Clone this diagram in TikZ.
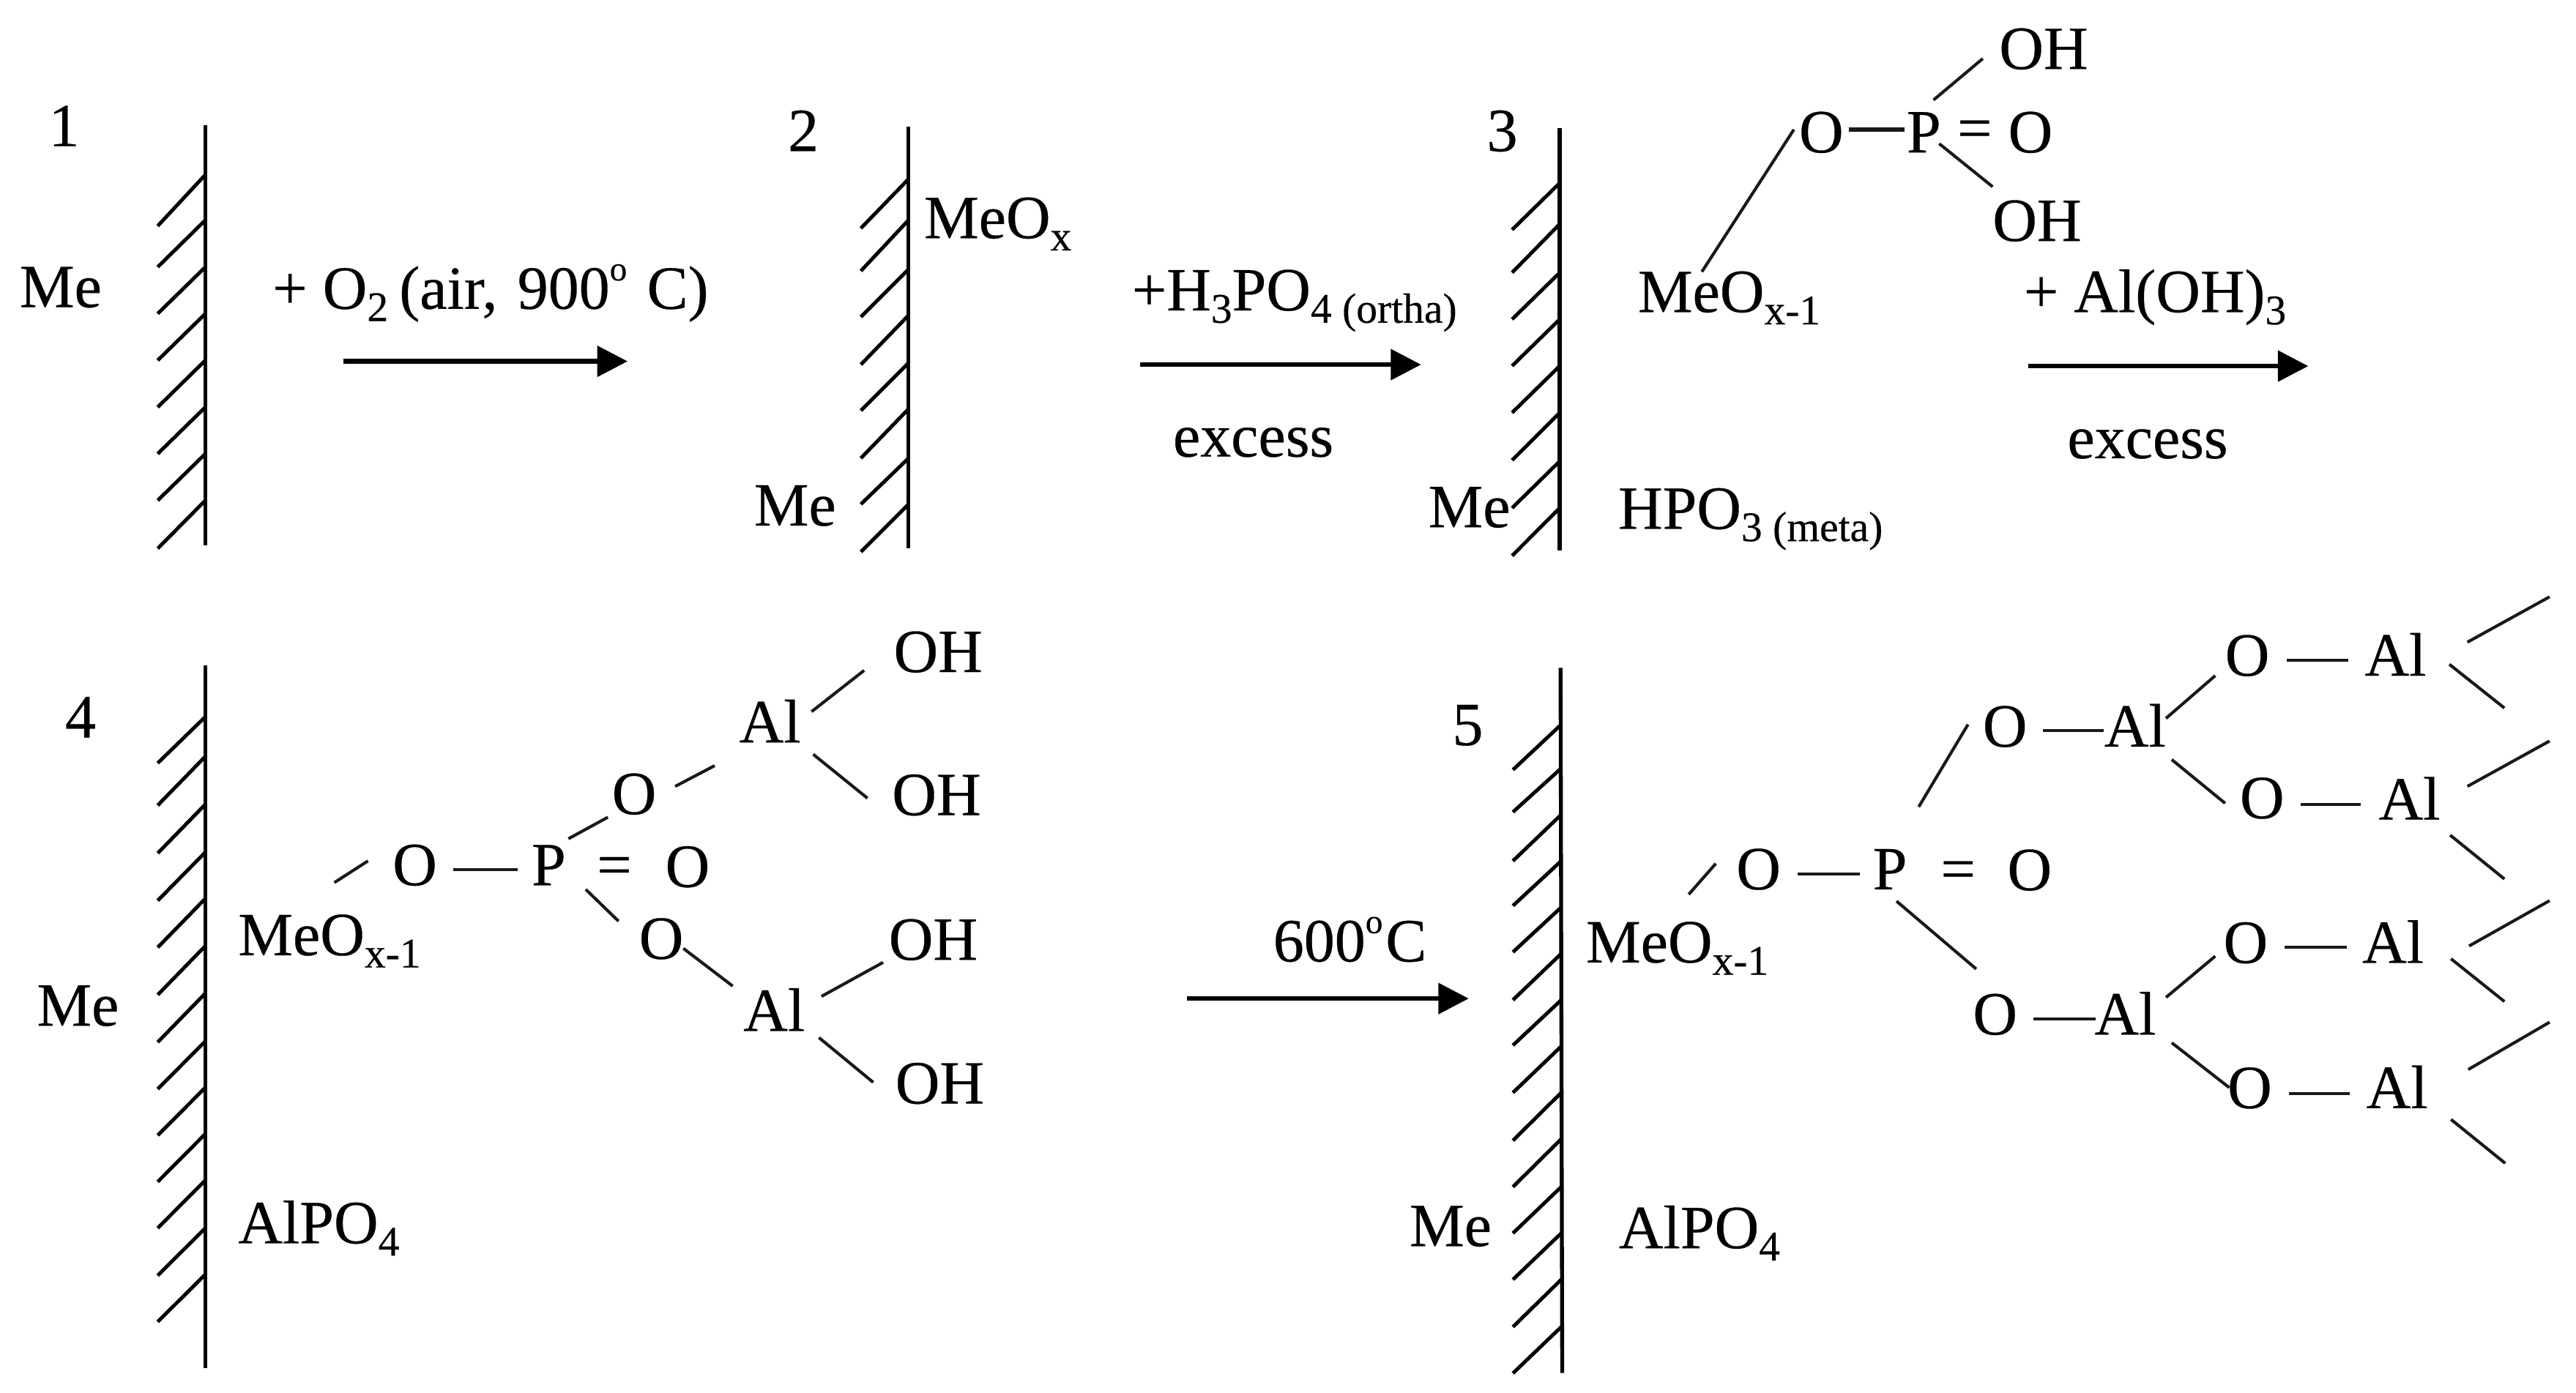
\documentclass[tikz,border=0pt]{standalone}
\usepackage{fontspec}
\setmainfont[RawFeature={embolden=0.35}]{Liberation Serif}
\usetikzlibrary{calc,arrows.meta}
\newcommand\sbs[1]{\raisebox{-0.2em}{\fontsize{14.6}{14.6}\selectfont #1}}
\newcommand\degmark{\raisebox{0.46em}{\fontsize{12}{12}\selectfont o}}
\newcommand\bond[4]{\draw[bondline] ($(#1)+(#2)$) -- ($(#3)+(#4)$);}
\tikzset{
  txt/.style={inner sep=0pt,outer sep=0pt,font=\fontsize{21.3}{24}\selectfont,text=black},
  atom/.style={txt,anchor=base},
  lbl/.style={txt,anchor=base west},
  bondline/.style={line width=1.05pt,black!90},
  thick bond/.style={line width=1.5pt},
  wallline/.style={line width=1.35pt,black},
  hatchline/.style={line width=1.25pt,black},
  rxn/.style={line width=1.6pt,black,-{Triangle[length=10.5pt,width=10.5pt]}}
}
\begin{document}
\begin{tikzpicture}[x=0.02cm,y=-0.02cm]
\useasboundingbox (0,0) rectangle (1568,848);
% ---- walls
\draw[wallline] (125,76) -- (125,332);
\foreach \a/\b in {106.4/137.6,134/162.6,162.6/191,191/219.4,219.4/247.9,247.9/276.3,276.3/304.7,304.7/334}
  \draw[hatchline] (125,\a) -- (96,\b);
\draw[wallline] (553,77) -- (553,334);
\foreach \a/\b in {109/139,134/165,164/193,192/222,221/250,249/279,279/307,307/336}
  \draw[hatchline] (553,\a) -- (524,\b);
\draw[wallline] (949.4,78) -- (949.4,335);
\foreach \a/\b in {111.4/139.9,136.4/166,166/194.4,194.4/222.8,222.8/251.3,251.3/280.2,280.8/309.3,309.3/338.4}
  \draw[hatchline] (949.4,\a) -- (920.4,\b);
\draw[wallline] (125,405) -- (125,833);
\foreach \a/\b in {255/345,332/427,425/520,518/612,608/703,700/795,792/887,885/978,975/1068,1065/1158,1155/1248,1248/1340,1338/1430}
  \draw[hatchline] (125,{356.5+.3135*\a}) -- (96,{356.5+.3135*\b});
\draw[wallline] (949.9,406.7) -- (950.9,836);
\foreach \a/\b in {270/358,355/440,445/535,535/622,625/712,715/805,805/893,895/985,985/1078,1075/1168,1168/1258,1258/1348,1348/1440,1440/1530}
  \draw[hatchline] (950.3,{356.5+.3135*\a}) -- (920.9,{356.5+.3135*\b});
% ---- reaction arrows
\coordinate (a1s) at (209,220); \coordinate (a1e) at (382,220);
\coordinate (a2s) at (694,222); \coordinate (a2e) at (865,222);
\coordinate (a3s) at (1234.4,222.9); \coordinate (a3e) at (1405,222.9);
\coordinate (a4s) at (722.5,608); \coordinate (a4e) at (894,608);
\draw[rxn] (a1s) -- (a1e);
\draw[rxn] (a2s) -- (a2e);
\draw[rxn] (a3s) -- (a3e);
\draw[rxn] (a4s) -- (a4e);
% ---- top row labels
\node[atom] (n1) at (39,89) {1};
\node[lbl] (me1) at (12,187) {Me};
\node[lbl] (r1) at (166,188) {+ O\sbs{2}\kern-1.5pt{} (air,\kern1.6pt{} 900\degmark{}\kern1.6pt{} C)};
\node[atom] (n2) at (489,92) {2};
\node[lbl] (meox) at (562.5,145) {MeO\sbs{x}};
\node[lbl] (me2) at (459,320) {Me};
\node[lbl] (r2) at (689,189) {+H\sbs{3}PO\sbs{4 (ortha)}};
\node[lbl] (ex1) at (714,278) {excess};
\node[atom] (n3) at (914.4,92) {3};
\node[lbl] (me3) at (869.4,321) {Me};
\node[lbl] (hpo) at (985,322) {HPO\sbs{3 (meta)}};
\node[lbl] (c3Me) at (997,190) {MeO\sbs{x-1}};
\node[atom] (c3O) at (1108.6,92.8) {O};
\node[atom] (c3P) at (1171,92.8) {P};
\node[atom] (c3E) at (1202,90.5) {=};
\node[atom] (c3Or) at (1235.9,92.8) {O};
\node[lbl] (c3OHt) at (1216.9,42) {OH};
\node[lbl] (c3OHb) at (1212.9,146.7) {OH};
\node[lbl] (r3) at (1231.9,190) {+ Al(OH)\sbs{3}};
\node[lbl] (ex2) at (1258.4,279) {excess};
\draw[bondline,thick bond] ($(c3O.base)+(16.8,-13.8)$) -- ($(c3P.base)+(-11.6,-13.8)$);
\bond{c3P.base}{5.9,-31.9}{c3OHt.base west}{-10,-6.3}
\bond{c3P.base}{9.4,-5.3}{c3OHb.base west}{0,-33}
\bond{c3Me.base west}{38.9,-24.5}{c3O.base}{-16.7,-13.9}
% ---- structure 4
\node[atom] (n4) at (49,449) {4};
\node[lbl] (me4) at (22.5,624.5) {Me};
\node[lbl] (d4Me) at (145,581.6) {MeO\sbs{x-1}};
\node[lbl] (alp4) at (145,757) {AlPO\sbs{4}};
\node[atom] (d4O) at (252.5,539) {O};
\node[atom] (d4P) at (334,539) {P};
\node[atom] (d4E) at (374,539) {=};
\node[atom] (d4Or) at (418.5,540) {O};
\node[atom] (d4Ou) at (386,495.7) {O};
\node[atom] (d4Od) at (402.5,583.8) {O};
\node[lbl] (d4Alu) at (450,452) {Al};
\node[lbl] (d4All) at (452.5,627.7) {Al};
\node[lbl] (OHa) at (544,409.2) {OH};
\node[lbl] (OHb) at (543,496.3) {OH};
\node[lbl] (OHc) at (541,584.4) {OH};
\node[lbl] (OHd) at (545,671.9) {OH};
\bond{d4Me.base west}{58.5,-44.2}{d4O.base}{-28.5,-14.8}
\bond{d4O.base}{23.5,-9.4}{d4P.base}{-19,-9.4}
\bond{d4P.base}{12,-28.3}{d4Ou.base}{-16,1.9}
\bond{d4P.base}{22.5,2.5}{d4Od.base}{-26,-22.9}
\bond{d4Ou.base}{25,-16.9}{d4Alu.base west}{-15,14.2}
\bond{d4Od.base}{13.5,-6.3}{d4All.base west}{-6.5,-27.3}
\bond{d4Alu.base west}{44,-18.7}{OHa.base west}{-18,-1}
\bond{d4Alu.base west}{45,7.3}{OHb.base west}{-15,-10.3}
\bond{d4All.base west}{47.5,-21}{OHc.base west}{-3.5,1.6}
\bond{d4All.base west}{46,4.1}{OHd.base west}{-13.5,-12.9}
% ---- 600 C
\node[lbl] (r4) at (775,585.4) {600\degmark{}\kern1pt{}C};
% ---- structure 5
\node[atom] (n5) at (893.4,453.7) {5};
\node[lbl] (me5) at (858,758.7) {Me};
\node[lbl] (e5Me) at (965.4,586) {MeO\sbs{x-1}};
\node[lbl] (alp5) at (985.4,760) {AlPO\sbs{4}};
\node[atom] (e5O) at (1070.4,541.5) {O};
\node[atom] (e5P) at (1150.4,541.5) {P};
\node[atom] (e5E) at (1191.9,541.5) {=};
\node[atom] (e5Or) at (1235.4,542) {O};
\node[atom] (e5Ou) at (1220.4,454.6) {O};
\node[lbl] (e5Alu) at (1280.9,454.6) {Al};
\node[atom] (e5Od) at (1214.4,629.9) {O};
\node[lbl] (e5All) at (1274.9,629.9) {Al};
\node[atom] (eO1) at (1367.9,411.4) {O};
\node[lbl] (eAl1) at (1439.4,411.4) {Al};
\node[atom] (eO2) at (1376.9,498.2) {O};
\node[lbl] (eAl2) at (1447.9,499) {Al};
\node[atom] (eO3) at (1366.9,586.3) {O};
\node[lbl] (eAl3) at (1437.9,586.3) {Al};
\node[atom] (eO4) at (1369.4,674.7) {O};
\node[lbl] (eAl4) at (1440.4,674.7) {Al};
\bond{e5Me.base west}{62.5,-41.4}{e5O.base}{-26,-15.7}
\bond{e5O.base}{24,-9.5}{e5P.base}{-18.5,-9.5}
\bond{e5P.base}{17.5,-50.2}{e5Ou.base}{-22.5,-13.5}
\bond{e5P.base}{4,7.2}{e5Od.base}{-11.5,-39.9}
\bond{e5Ou.base}{23,-9.7}{e5Alu.base west}{-.5,-9.7}
\bond{e5Od.base}{23.5,-9.4}{e5All.base west}{.5,-9.4}
\bond{e5Alu.base west}{37.5,-17.2}{eO1.base}{-19.5,0}
\bond{e5Alu.base west}{41,7.9}{eO2.base}{-22.5,-9.1}
\bond{e5All.base west}{43.5,-22.6}{eO3.base}{-18.5,-4.1}
\bond{e5All.base west}{47,5}{eO4.base}{-12.5,-12.5}
\bond{eO1.base}{24,-9.4}{eAl1.base west}{-10,-9.4}
\bond{eO2.base}{23.5,-8.5}{eAl2.base west}{-11,-9.3}
\bond{eO3.base}{23.5,-9.4}{eAl3.base west}{-9.5,-9.4}
\bond{eO4.base}{24,-8.8}{eAl4.base west}{-10,-8.8}
% ---- open valences
\coordinate (t1a) at (1551.9,363.4); \coordinate (t1b) at (1524.4,431.1);
\coordinate (t2a) at (1551.9,451.2); \coordinate (t2b) at (1524.4,535.2);
\coordinate (t3a) at (1551.9,548.4); \coordinate (t3b) at (1524.4,609.8);
\coordinate (t4a) at (1551.9,622.4); \coordinate (t4b) at (1524.9,708.3);
\bond{eAl1.base west}{62.5,-20.4}{t1a}{0,0}
\bond{eAl1.base west}{51.5,-6.9}{t1b}{0,0}
\bond{eAl2.base west}{54,-20.2}{t2a}{0,0}
\bond{eAl2.base west}{43.5,9.5}{t2b}{0,0}
\bond{eAl3.base west}{65,-10.3}{t3a}{0,0}
\bond{eAl3.base west}{54,-2.5}{t3b}{0,0}
\bond{eAl4.base west}{62,-23.5}{t4a}{0,0}
\bond{eAl4.base west}{51.5,6.9}{t4b}{0,0}
\end{tikzpicture}
\end{document}
